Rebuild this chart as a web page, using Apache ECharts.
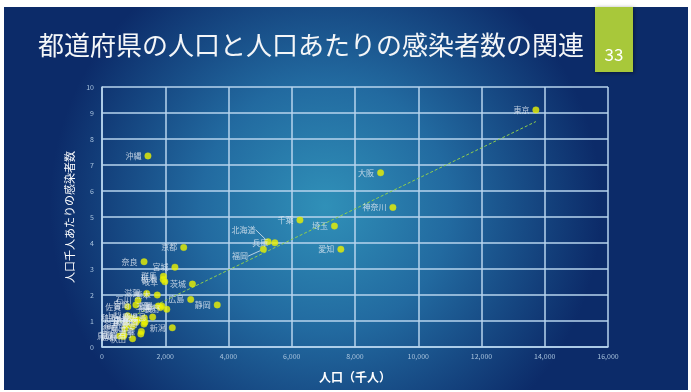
<!DOCTYPE html>
<html>
<head>
<meta charset="utf-8">
<script src="https://cdn.jsdelivr.net/npm/echarts@6/dist/echarts.min.js"></script>
<style>
  html, body { margin: 0; padding: 0; background: #ffffff; }
  #chart { width: 691px; height: 392px; }
</style>
</head>
<body>
<div id="chart"></div>
<script>
// Prefecture names, population (thousands) and cumulative cases per 1,000 people
const prefectures = [
  '北海道','青森','岩手','宮城','秋田','山形','福島','茨城','栃木','群馬',
  '埼玉','千葉','東京','神奈川','新潟','富山','石川','福井','山梨','長野',
  '岐阜','静岡','愛知','三重','滋賀','京都','大阪','兵庫','奈良','和歌山',
  '鳥取','島根','岡山','広島','山口','徳島','香川','愛媛','高知','福岡',
  '佐賀','長崎','熊本','大分','宮崎','鹿児島','沖縄'
];
const population = [
  5250, 1246, 1227, 2306, 966, 1078, 1846, 2860, 1934, 1942,
  7350, 6259, 13720, 9198, 2223, 1044, 1138, 768, 811, 2049,
  1987, 3644, 7552, 1781, 1414, 2583, 8809, 5466, 1330, 925,
  556, 674, 1890, 2804, 1358, 728, 956, 1339, 698, 5104,
  815, 1327, 1748, 1135, 1073, 1602, 1453
];
const casesPer1000 = [
  4.05, 0.60, 0.50, 3.07, 0.32, 0.95, 1.52, 2.42, 2.60, 2.72,
  4.65, 4.88, 9.12, 5.37, 0.74, 1.05, 1.80, 0.85, 1.20, 1.45,
  2.51, 1.62, 3.76, 1.58, 2.06, 3.83, 6.70, 4.01, 3.28, 1.10,
  0.42, 0.40, 1.58, 1.83, 0.95, 0.70, 0.78, 1.12, 0.46, 3.76,
  1.55, 0.88, 2.00, 1.05, 1.62, 1.15, 7.35
];
// Linear trend line endpoints [population, cases per 1,000]
const trendPopulation = [556, 13720];
const trendCases = [0.94, 8.67];

const xTicks = [0, 2000, 4000, 6000, 8000, 10000, 12000, 14000, 16000];
const yTicks = [0, 1, 2, 3, 4, 5, 6, 7, 8, 9, 10];

const titleText = '都道府県の人口と人口あたりの感染者数の関連';
const slideNumber = '33';
const xAxisName = '人口（千人）';
const yAxisName = '人口千人あたりの感染者数';

const FONT = '"Noto Sans CJK JP", "Noto Sans", sans-serif';

// Labels that sit away from their point with a short leader line
const movedLabels = { '北海道': [-6, -12], '福岡': [-9, 7] };

const points = prefectures.map((name, i) => {
  const item = { name: name, value: [population[i], casesPer1000[i]] };
  if (movedLabels[name]) {
    item.labelLine = { show: true, lineStyle: { color: '#dfe8f2', width: 0.8 } };
  }
  return item;
});

const chart = echarts.init(document.getElementById('chart'), null, { renderer: 'canvas' });

chart.setOption({
  animation: false,
  backgroundColor: '#ffffff',
  graphic: [
    {
      type: 'rect', z: -10, silent: true,
      shape: { x: 4, y: 7, width: 684, height: 383 },
      style: {
        fill: new echarts.graphic.RadialGradient(0.47, 0.52, 0.72, [
          { offset: 0, color: '#3090b8' },
          { offset: 0.45, color: '#226aa0' },
          { offset: 1, color: '#0c2b69' }
        ])
      }
    },
    {
      type: 'rect', z: 5, silent: true,
      shape: { x: 595, y: 7, width: 38, height: 65 },
      style: { fill: '#a8c83a', shadowBlur: 4, shadowColor: 'rgba(0,0,0,0.45)', shadowOffsetX: 1, shadowOffsetY: 1 }
    },
    {
      type: 'text', z: 6, silent: true,
      style: {
        text: slideNumber, x: 614, y: 55, align: 'center', verticalAlign: 'middle',
        fill: '#ffffff', font: '17px ' + FONT
      }
    },
    {
      type: 'text', z: 6, silent: true,
      style: {
        text: titleText, x: 38, y: 45, verticalAlign: 'middle',
        fill: '#f4f6f8', font: '26px ' + FONT
      }
    }
  ],
  grid: { left: 102, right: 83, top: 87, bottom: 45, containLabel: false },
  xAxis: {
    type: 'value', min: xTicks[0], max: xTicks[xTicks.length - 1], interval: 2000,
    name: xAxisName, nameLocation: 'middle', nameGap: 24,
    nameTextStyle: { color: '#ffffff', fontSize: 12, fontFamily: FONT, fontWeight: 'bold' },
    axisLine: { show: true, lineStyle: { color: '#b7d5ee', width: 1.5 } },
    axisTick: { show: false },
    axisLabel: {
      color: '#a8c3dd', fontSize: 7, fontFamily: FONT, margin: 6,
      formatter: v => v.toLocaleString('en-US')
    },
    splitLine: { show: true, lineStyle: { color: '#b7d5ee', width: 1.5 } }
  },
  yAxis: {
    type: 'value', min: yTicks[0], max: yTicks[yTicks.length - 1], interval: 1,
    name: yAxisName, nameLocation: 'middle', nameGap: 14, nameRotate: 90,
    nameTextStyle: { color: '#ffffff', fontSize: 11, fontFamily: FONT },
    axisLine: { show: true, lineStyle: { color: '#b7d5ee', width: 1.5 } },
    axisTick: { show: false },
    axisLabel: { color: '#a8c3dd', fontSize: 7, fontFamily: FONT, margin: 8 },
    splitLine: { show: true, lineStyle: { color: '#b7d5ee', width: 1.5 } }
  },
  series: [
    {
      type: 'line',
      data: trendPopulation.map((p, i) => [p, trendCases[i]]),
      symbol: 'none',
      lineStyle: { color: '#8fcf4c', width: 1, type: [3, 2] },
      z: 2,
      silent: true
    },
    {
      type: 'scatter',
      data: points,
      symbolSize: 6.5,
      itemStyle: { color: '#eef200', borderColor: '#c9dc1a', borderWidth: 0.5 },
      label: {
        show: true, position: 'left', distance: 3,
        formatter: p => p.name,
        color: '#e3ebf4', fontSize: 8, fontFamily: FONT
      },
      labelLayout: function (params) {
        const name = prefectures[params.dataIndex];
        if (movedLabels[name]) {
          return { dx: movedLabels[name][0], dy: movedLabels[name][1] };
        }
        return {};
      },
      z: 3
    }
  ]
});
</script>
</body>
</html>
